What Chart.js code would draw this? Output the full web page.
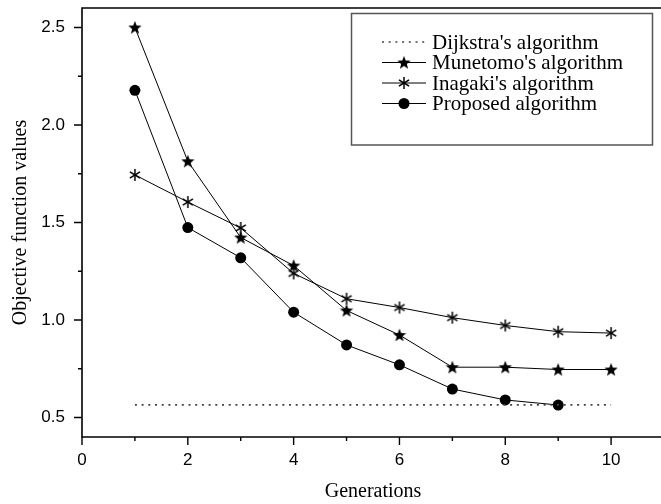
<!DOCTYPE html>
<html>
<head>
<meta charset="utf-8">
<script src="https://cdn.jsdelivr.net/npm/chart.js@4/dist/chart.umd.min.js"></script>
<style>
html,body{margin:0;padding:0;overflow:hidden;background:#fff}
#wrap{width:661px;height:504px;overflow:hidden}
</style>
</head>
<body>
<div id="wrap"><canvas id="chart" width="672" height="504"></canvas></div>
<script>
// data
var generations = [1, 2, 3, 4, 5, 6, 7, 8, 9, 10];
var dijkstra  = [0.565, 0.565, 0.565, 0.565, 0.565, 0.565, 0.565, 0.565, 0.565, 0.565];
var munetomo  = [2.50, 1.814, 1.423, 1.279, 1.049, 0.923, 0.758, 0.758, 0.746, 0.746];
var inagaki   = [1.744, 1.605, 1.472, 1.239, 1.109, 1.064, 1.012, 0.972, 0.940, 0.933];
var proposed  = [2.178, 1.474, 1.319, 1.040, 0.872, 0.770, 0.646, 0.590, 0.564];
var names = ["Dijkstra's algorithm", "Munetomo's algorithm", "Inagaki's algorithm", "Proposed algorithm"];
var xTicks = [0, 2, 4, 6, 8, 10];
var xMinor = [1, 3, 5, 7, 9];
var yTicks = [0.5, 1.0, 1.5, 2.0, 2.5];
var yMinor = [0.75, 1.25, 1.75, 2.25];

function pts(ys) {
  return ys.map(function (y, i) { return { x: generations[i], y: y }; });
}

// marker images
function starMark(r) {
  var c = document.createElement('canvas');
  c.width = c.height = Math.ceil(2 * r + 2);
  var g = c.getContext('2d'), cx = c.width / 2, cy = c.height / 2 + 0.5;
  g.beginPath();
  for (var i = 0; i < 10; i++) {
    var a = -Math.PI / 2 + i * Math.PI / 5;
    var rr = i % 2 ? r * 0.42 : r;
    g.lineTo(cx + rr * Math.cos(a), cy + rr * Math.sin(a));
  }
  g.closePath();
  g.fillStyle = '#000';
  g.fill();
  return c;
}
function asterMark(r) {
  var c = document.createElement('canvas');
  c.width = c.height = Math.ceil(2 * r + 2);
  var g = c.getContext('2d'), cx = c.width / 2, cy = c.height / 2;
  g.strokeStyle = '#000';
  g.lineWidth = 1.5;
  [90, 32, -32].forEach(function (d) {
    var a = d * Math.PI / 180;
    g.beginPath();
    g.moveTo(cx - r * Math.cos(a), cy - r * Math.sin(a));
    g.lineTo(cx + r * Math.cos(a), cy + r * Math.sin(a));
    g.stroke();
  });
  return c;
}
var starImg = starMark(7);
var asterImg = asterMark(6);

var frame = {
  id: 'frame',
  afterDraw: function (chart) {
    var ctx = chart.ctx, a = chart.chartArea;
    var xs = chart.scales.x, ys = chart.scales.y;
    ctx.save();
    ctx.strokeStyle = '#000';
    ctx.lineWidth = 1.6;
    ctx.beginPath();
    ctx.moveTo(a.right, a.top); ctx.lineTo(a.left, a.top);
    ctx.lineTo(a.left, a.bottom); ctx.lineTo(a.right, a.bottom);
    ctx.stroke();
    ctx.lineWidth = 1.4;
    ctx.beginPath();
    xTicks.forEach(function (v) { var p = xs.getPixelForValue(v); ctx.moveTo(p, a.bottom); ctx.lineTo(p, a.bottom + 8); });
    xMinor.forEach(function (v) { var p = xs.getPixelForValue(v); ctx.moveTo(p, a.bottom); ctx.lineTo(p, a.bottom + 4); });
    yTicks.forEach(function (v) { var p = ys.getPixelForValue(v); ctx.moveTo(a.left, p); ctx.lineTo(a.left - 8, p); });
    yMinor.forEach(function (v) { var p = ys.getPixelForValue(v); ctx.moveTo(a.left, p); ctx.lineTo(a.left - 4, p); });
    ctx.stroke();

    // legend
    ctx.strokeStyle = '#555';
    ctx.lineWidth = 1.5;
    ctx.strokeRect(351.5, 13.5, 301, 131.5);
    ctx.font = '21px "Liberation Serif"';
    ctx.textBaseline = 'middle';
    ctx.fillStyle = '#000';
    chart.data.datasets.forEach(function (ds, i) {
      var y = 42 + i * 20.5;
      ctx.save();
      ctx.strokeStyle = ds.borderColor;
      ctx.lineWidth = ds.borderWidth;
      ctx.setLineDash(ds.borderDash || []);
      ctx.beginPath(); ctx.moveTo(382, y); ctx.lineTo(426, y); ctx.stroke();
      ctx.restore();
      if (ds.pointStyle === 'circle') {
        ctx.beginPath(); ctx.arc(404, y, 5.5, 0, Math.PI * 2); ctx.fill();
      } else if (ds.pointStyle && ds.pointStyle.getContext) {
        var im = ds.pointStyle;
        ctx.drawImage(im, 404 - im.width / 2, y - im.height / 2);
      }
      ctx.fillText(ds.label, 432, y + 1);
    });
    ctx.restore();
  }
};

new Chart(document.getElementById('chart'), {
  type: 'line',
  data: {
    datasets: [
      { label: names[0], data: pts(dijkstra), borderColor: '#444', borderWidth: 1.6, borderDash: [2, 4.7], pointRadius: 0 },
      { label: names[1], data: pts(munetomo), borderColor: '#000', borderWidth: 1, pointStyle: starImg, pointRadius: 7 },
      { label: names[2], data: pts(inagaki), borderColor: '#000', borderWidth: 1, pointStyle: asterImg, pointRadius: 6 },
      { label: names[3], data: pts(proposed), borderColor: '#000', borderWidth: 1, pointStyle: 'circle', pointRadius: 5.5, pointBackgroundColor: '#000', pointBorderWidth: 0 }
    ]
  },
  options: {
    responsive: false,
    animation: false,
    layout: { padding: { top: 2, right: 1, left: 0, bottom: 0 } },
    plugins: { legend: { display: false }, tooltip: { enabled: false } },
    scales: {
      x: {
        type: 'linear', min: 0, max: 11,
        grid: { display: false }, border: { display: false },
        afterBuildTicks: function (s) { s.ticks = xTicks.map(function (v) { return { value: v }; }); },
        afterFit: function (s) { s.height = 67; s.paddingLeft = 0; s.paddingRight = 0; },
        ticks: { color: '#000', font: { family: '"Liberation Sans"', size: 17 }, padding: 5, maxRotation: 0 },
        title: { display: true, text: 'Generations', color: '#000', font: { family: '"Liberation Serif"', size: 20 }, padding: { top: 0, bottom: 0 } }
      },
      y: {
        min: 0.4, max: 2.6,
        grid: { display: false }, border: { display: false },
        afterBuildTicks: function (s) { s.ticks = yTicks.map(function (v) { return { value: v }; }); },
        afterFit: function (s) { s.width = 82; s.paddingTop = 0; s.paddingBottom = 0; },
        ticks: { color: '#000', font: { family: '"Liberation Sans"', size: 17 }, padding: 9, callback: function (v) { return v.toFixed(1); } },
        title: { display: true, text: 'Objective function values', color: '#000', font: { family: '"Liberation Serif"', size: 20 }, padding: { top: 9, bottom: 0 } }
      }
    }
  },
  plugins: [frame]
});
</script>
</body>
</html>
